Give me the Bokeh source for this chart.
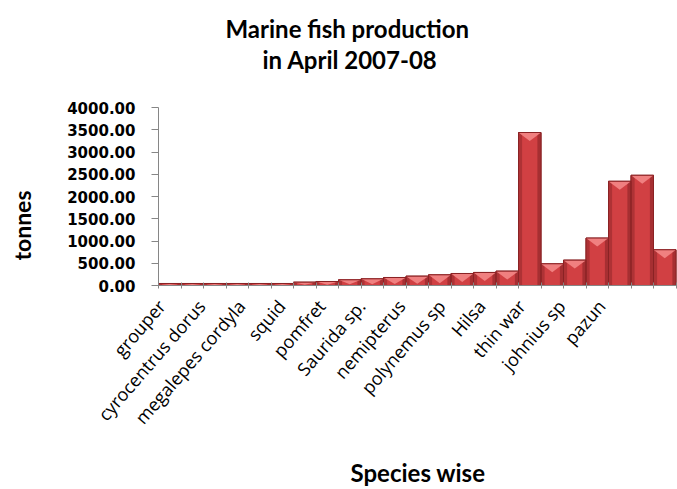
import math
from bokeh.plotting import figure
from bokeh.models import Range1d, LinearAxis, FixedTicker, NumeralTickFormatter, Title
from bokeh.embed import file_html
from bokeh.resources import INLINE

# ---- data ----
values = [45, 45, 45, 45, 45, 45, 75, 90, 128, 150, 180, 210, 240, 270, 293, 323,
          3438, 488, 570, 1066, 2342, 2477, 803]
label_names = ["grouper", "cyrocentrus dorus", "megalepes cordyla", "squid", "pomfret",
               "Saurida sp.", "nemipterus", "polynemus sp", "Hilsa", "thin war",
               "johnius sp", "pazun"]
y_ticks = [0, 500, 1000, 1500, 2000, 2500, 3000, 3500, 4000]
title_line1 = "Marine fish production"
title_line2 = "in April 2007-08"

n = len(values)
idx = list(range(n))

W = 677
H = 489
LEFT = 158
TOP = 107
FW = W - LEFT
CAT_PX = 22.5

p = figure(width=W, height=H, x_range=Range1d(-0.5, -0.5 + FW / CAT_PX), y_range=Range1d(0, 4000),
           x_axis_type=None, y_axis_type=None, output_backend="svg", toolbar_location=None,
           title=None, min_border_left=LEFT, min_border_right=0, min_border_top=TOP,
           min_border_bottom=10)
p.outline_line_color = None
p.grid.visible = False
p.background_fill_color = "white"

# bars
edge = "#8a2224"
p.vbar(x=idx, top=values, bottom=0, width=1.0, fill_color="#d14043", line_color=edge, line_width=1)
p.vbar(x=[i - 0.42 for i in idx], top=values, bottom=0, width=0.16, fill_color="#ae3235",
       line_color=None)
p.vbar(x=[i + 0.42 for i in idx], top=values, bottom=0, width=0.16, fill_color="#a62f32",
       line_color=None)
depth = [min(190, 0.8 * v) for v in values]
xs = [[i - 0.5, i + 0.5, i] for i in idx]
ys = [[v, v, v - d] for v, d in zip(values, depth)]
p.patches(xs=xs, ys=ys, fill_color="#f08080", line_color=None)
p.vbar(x=idx, top=values, bottom=0, width=1.0, fill_color=None, line_color=edge, line_width=1)

# y axis
yax = LinearAxis(ticker=FixedTicker(ticks=y_ticks), formatter=NumeralTickFormatter(format="0.00"))
yax.axis_line_color = "#868686"
yax.major_tick_line_color = "#868686"
yax.major_tick_out = 7
yax.major_tick_in = 0
yax.minor_tick_line_color = None
yax.major_label_standoff = 16
yax.major_label_text_font = "DejaVu Sans"
yax.major_label_text_font_style = "bold"
yax.major_label_text_font_size = "15px"
yax.major_label_text_color = "black"
p.add_layout(yax, "left")
# spacer between tick labels and the axis title
p.add_layout(Title(text=" ", text_font_size="1px", standoff=26), "left")
p.add_layout(Title(text="tonnes", align="left", offset=25, vertical_align="bottom",
                   text_font="Lato", text_font_size="23px", text_font_style="bold",
                   text_color="black", standoff=0), "left")

# category boundary ticks
xax = LinearAxis(ticker=FixedTicker(ticks=[i + 0.5 for i in range(-1, n + 1)]))
xax.axis_line_color = "#868686"
xax.major_tick_line_color = "#868686"
xax.major_tick_out = 3
xax.major_tick_in = 3
xax.minor_tick_line_color = None
xax.major_label_text_font_size = "0px"
xax.major_label_standoff = 0
p.add_layout(xax, "below")

# category labels
nl = len(label_names)
X0 = 161.0
LAB_PX = 40.0
a = -(X0 - LEFT) / LAB_PX
p.extra_x_ranges = {"lab": Range1d(a, a + FW / LAB_PX)}
lax = LinearAxis(x_range_name="lab", ticker=FixedTicker(ticks=list(range(nl))),
                 major_label_overrides={i: s for i, s in enumerate(label_names)})
lax.axis_line_color = None
lax.major_tick_line_color = None
lax.minor_tick_line_color = None
lax.major_label_orientation = math.radians(49)
lax.major_label_standoff = 8
lax.major_label_text_font = "Open Sans"
lax.major_label_text_font_size = "18px"
lax.major_label_text_color = "black"
lax.axis_label = "Species wise"
lax.axis_label_text_font = "Lato"
lax.axis_label_text_font_style = "bold"
lax.axis_label_text_font_size = "24px"
lax.axis_label_text_color = "black"
lax.axis_label_standoff = 18
p.add_layout(lax, "below")

# two-line chart title (later-added panels sit farther from the frame)
p.add_layout(Title(text=" ", text_font_size="1px", standoff=31), "above")
p.add_layout(Title(text=title_line2, align="left", offset=104, standoff=0,
                   text_font="Lato", text_font_size="24px", text_font_style="bold",
                   text_color="black"), "above")
p.add_layout(Title(text=title_line1, align="left", offset=67, standoff=0,
                   text_font="Lato", text_font_size="24px", text_font_style="bold",
                   text_color="black"), "above")

open("out.html", "w").write(file_html(p, INLINE))
